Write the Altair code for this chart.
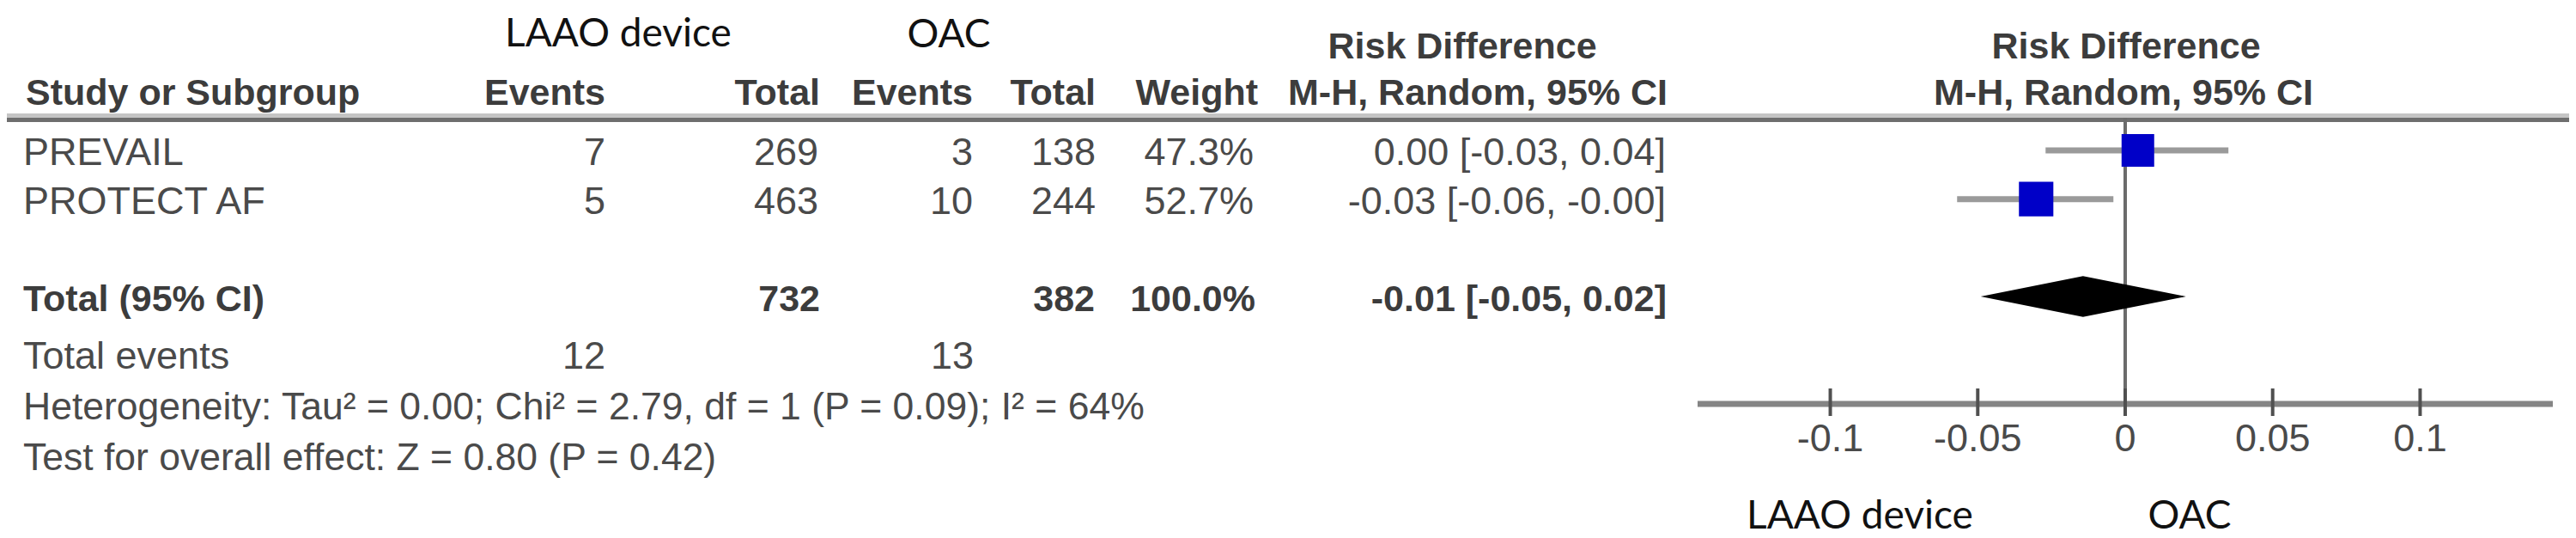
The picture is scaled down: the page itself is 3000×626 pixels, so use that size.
import altair as alt
import pandas as pd

# ---------------- data ----------------
studies = ["PREVAIL", "PROTECT AF"]
laao_events = [7, 5]
laao_total = [269, 463]
oac_events = [3, 10]
oac_total = [138, 244]
weights = [47.3, 52.7]
weight_text = ["47.3%", "52.7%"]
rd = [0.0043, -0.0302]
ci_low = [-0.027, -0.057]
ci_high = [0.035, -0.004]
ci_text = ["0.00 [-0.03, 0.04]", "-0.03 [-0.06, -0.00]"]
study_rows = [0, 1]

total_label = "Total (95% CI)"
total_laao = ["732"]
total_oac = ["382"]
total_weight = ["100.0%"]
pooled_rd = -0.0143
pooled_low = -0.049
pooled_high = 0.0206
pooled_text = ["-0.01 [-0.05, 0.02]"]
total_row = 3

total_events_laao = ["12"]
total_events_oac = ["13"]
heterogeneity = "Heterogeneity: Tau\u00b2 = 0.00; Chi\u00b2 = 2.79, df = 1 (P = 0.09); I\u00b2 = 64%"
overall_effect = "Test for overall effect: Z = 0.80 (P = 0.42)"

tick_values = [-0.1, -0.05, 0, 0.05, 0.1]
tick_labels = ["-0.1", "-0.05", "0", "0.05", "0.1"]
x_domain = [-0.145, 0.145]
null_effect = [0]

# ---------------- style ----------------
SANS = "Liberation Sans, Arial, Helvetica, sans-serif"
CAL = "Lato, Carlito, Calibri, Open Sans, sans-serif"
TXT = "#4a4a4a"
HDR = "#3c3c3c"
FS = 45
FSB = 43
FSC = 46

W, H = 2984, 618
xscale = alt.Scale(domain=x_domain, range=[1969, 2965], zero=False, nice=False)
yscale = alt.Scale(domain=[0, 3], range=[167, 337], zero=False, nice=False)


def label(text, x, y, align="left", bold=False, font=SANS, size=None, color=TXT):
    if size is None:
        size = FSB if bold else FS
    return alt.Chart(pd.DataFrame({"t": [text]})).mark_text(
        align=align, baseline="alphabetic", font=font, fontSize=size,
        fontWeight="bold" if bold else "normal", color=color
    ).encode(text="t:N", x=alt.value(x), y=alt.value(y))


studies_df = pd.DataFrame({
    "study": studies, "e1": [str(v) for v in laao_events], "n1": [str(v) for v in laao_total],
    "e2": [str(v) for v in oac_events], "n2": [str(v) for v in oac_total],
    "weight": weights, "wtext": weight_text, "rd": rd, "lo": ci_low, "hi": ci_high,
    "ci": ci_text, "row": study_rows,
})

total_df = pd.DataFrame({
    "label": [total_label], "n1": total_laao, "n2": total_oac, "w": total_weight,
    "ci": pooled_text, "row": [total_row],
})

layers = []

# header texts
layers += [
    label("LAAO device", 712, 46, align="center", font=CAL, size=FSC, color="#111111"),
    label("OAC", 1097, 47, align="center", font=CAL, size=FSC, color="#111111"),
    label("Risk Difference", 1695, 60, align="center", bold=True, color=HDR),
    label("Risk Difference", 2468, 60, align="center", bold=True, color=HDR),
    label("Study or Subgroup", 22, 114, bold=True, color=HDR),
    label("Events", 697, 114, align="right", bold=True, color=HDR),
    label("Total", 947, 114, align="right", bold=True, color=HDR),
    label("Events", 1125, 114, align="right", bold=True, color=HDR),
    label("Total", 1268, 114, align="right", bold=True, color=HDR),
    label("Weight", 1457, 114, align="right", bold=True, color=HDR),
    label("M-H, Random, 95% CI", 1934, 114, align="right", bold=True, color=HDR),
    label("M-H, Random, 95% CI", 2465, 114, align="center", bold=True, color=HDR),
]

# header rules
dummy = pd.DataFrame({"d": [0]})
layers += [
    alt.Chart(dummy).mark_rule(strokeWidth=5, color="#c4c4c4").encode(
        x=alt.value(0), x2=alt.value(W), y=alt.value(126.5)),
    alt.Chart(dummy).mark_rule(strokeWidth=5, color="#6e6e6e").encode(
        x=alt.value(0), x2=alt.value(W), y=alt.value(131.5)),
]

# study rows text
def col(field, x, align="right", data=studies_df, bold=False, color=TXT):
    return alt.Chart(data).mark_text(
        align=align, baseline="alphabetic", dy=17, font=SANS,
        fontSize=FSB if bold else FS,
        fontWeight="bold" if bold else "normal", color=color
    ).encode(text=f"{field}:N", x=alt.value(x), y=alt.Y("row:Q", scale=yscale, axis=None))

layers += [
    col("study", 19, align="left"),
    col("e1", 697), col("n1", 945), col("e2", 1125), col("n2", 1268),
    col("wtext", 1452), col("ci", 1932),
]
layers += [
    col("label", 19, align="left", data=total_df, bold=True, color=HDR),
    col("n1", 947, data=total_df, bold=True, color=HDR),
    col("n2", 1267, data=total_df, bold=True, color=HDR),
    col("w", 1454, data=total_df, bold=True, color=HDR),
    col("ci", 1933, data=total_df, bold=True, color=HDR),
]

# footer
layers += [
    label("Total events", 19, 421),
    label(total_events_laao[0], 697, 421, align="right"),
    label(total_events_oac[0], 1126, 421, align="right"),
    label(heterogeneity, 19, 480, size=44.5),
    label(overall_effect, 19, 539, size=44.5),
]

# forest plot
zero_df = pd.DataFrame({"v": null_effect})
layers.append(
    alt.Chart(zero_df).mark_rule(strokeWidth=4, color="#6b6b6b").encode(
        x=alt.X("v:Q", scale=xscale, axis=None), y=alt.value(129), y2=alt.value(462))
)
axis_df = pd.DataFrame({"a": [x_domain[0]], "b": [x_domain[1]]})
layers.append(
    alt.Chart(axis_df).mark_rule(strokeWidth=7, color="#858585").encode(
        x=alt.X("a:Q", scale=xscale, axis=None), x2="b:Q", y=alt.value(462))
)
ticks_df = pd.DataFrame({"t": tick_values, "lab": tick_labels})
layers.append(
    alt.Chart(ticks_df).mark_rule(strokeWidth=4, color="#505050").encode(
        x=alt.X("t:Q", scale=xscale, axis=None), y=alt.value(444), y2=alt.value(476))
)
layers.append(
    alt.Chart(ticks_df).mark_text(baseline="alphabetic", align="center", font=SANS,
                                  fontSize=FS, color=TXT).encode(
        x=alt.X("t:Q", scale=xscale, axis=None), y=alt.value(517), text="lab:N")
)
layers.append(
    alt.Chart(studies_df).mark_rule(strokeWidth=7, color="#9a9a9a").encode(
        x=alt.X("lo:Q", scale=xscale, axis=None), x2="hi:Q",
        y=alt.Y("row:Q", scale=yscale, axis=None))
)
layers.append(
    alt.Chart(studies_df).mark_square(color="#0000c8", opacity=1).encode(
        x=alt.X("rd:Q", scale=xscale, axis=None),
        y=alt.Y("row:Q", scale=yscale, axis=None),
        size=alt.Size("weight:Q", scale=alt.Scale(domain=[0, 100], range=[0, 3050]), legend=None))
)
h = 0.42
dia_df = pd.DataFrame({
    "y": [total_row - h, total_row, total_row + h],
    "x": [pooled_rd, pooled_low, pooled_rd],
    "x2": [pooled_rd, pooled_high, pooled_rd],
})
layers.append(
    alt.Chart(dia_df).mark_area(orient="horizontal", color="black", opacity=1).encode(
        y=alt.Y("y:Q", scale=yscale, axis=None),
        x=alt.X("x:Q", scale=xscale, axis=None), x2="x2:Q")
)

# bottom favours labels
layers += [
    label("LAAO device", 2158, 607, align="center", font=CAL, size=FSC, color="#111111"),
    label("OAC", 2542, 607, align="center", font=CAL, size=FSC, color="#111111"),
]

chart = alt.layer(*layers).properties(
    width=W, height=H, padding=0, autosize="none"
).configure_view(stroke=None)

chart.save("out.html", embed_options={"renderer": "svg", "actions": False})
